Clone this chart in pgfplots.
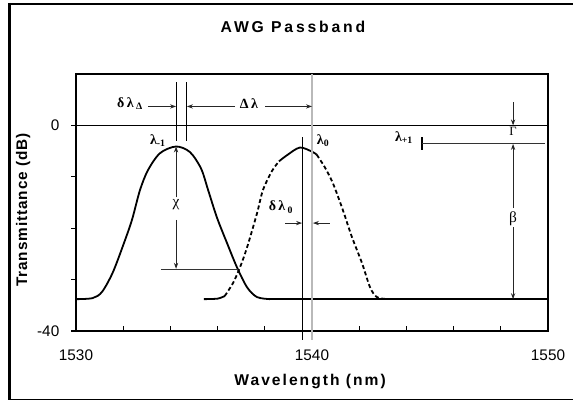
\documentclass[border=0pt]{standalone}
\usepackage{fontspec}
\setmainfont{Liberation Sans}
\newfontfamily\grk{Liberation Serif}
\newfontfamily\titlefont[LetterSpace=18]{Liberation Sans}
\newfontfamily\labfont[LetterSpace=13]{Liberation Sans}
\newfontfamily\ylabfont[LetterSpace=6]{Liberation Sans}
\usepackage{pgfplots}
\pgfplotsset{compat=1.18}
\usetikzlibrary{arrows.meta}
\tikzset{ar/.style={-{Stealth[length=4.5pt,width=3.2pt]}, line width=0.65pt, black!85}}
\begin{document}
\begin{tikzpicture}
\path[use as bounding box] (0,0) rectangle (429.75pt,-300.75pt);
\draw[line width=1.9pt] (7pt,-2.1pt) -- (7pt,-300pt);
\draw[line width=1.5pt] (6.1pt,-2.8pt) -- (430pt,-2.8pt);
\draw[line width=0.75pt] (6.1pt,-299.6pt) -- (430pt,-299.6pt);
\node[font=\titlefont\bfseries\fontsize{11.8}{13}\selectfont] at (219.75pt,-20.25pt) {AWG Passband};
\begin{axis}[
  at={(57pt,-248.25pt)}, anchor=south west,
  scale only axis, width=354pt, height=192.75pt,
  xmin=1530, xmax=1550, ymin=-40, ymax=10,
  clip=false, axis lines=box,
  axis line style={line width=1.3pt, black},
  xtick={1530,1532,...,1550}, xticklabels={1530,,,,,1540,,,,,1550},
  ytick={-40,-30,...,0}, yticklabels={-40,,,,0},
  xtick pos=bottom, ytick pos=left, tick align=inside,
  major tick length=3.75pt,
  tick style={line width=0.9pt, black},
  every major y tick/.append style={xshift=-3.75pt},
  xticklabel style={anchor=center, yshift=-18pt, font=\fontsize{11.5}{13}\selectfont},
  yticklabel style={anchor=east, xshift=-9pt, font=\fontsize{11.5}{13}\selectfont},
  xlabel={\labfont\bfseries Wavelength (nm)},
  xlabel style={at={(axis description cs:0.496,-0.198)}, anchor=center, font=\fontsize{11.7}{13}\selectfont},
  ylabel={\ylabfont\bfseries Transmittance (dB)},
  ylabel style={at={(axis description cs:-0.112,0.471)}, anchor=center, font=\fontsize{11.5}{13}\selectfont},
]
% left passband (solid)
\addplot[line width=1.35pt, smooth, tension=0.5] coordinates {
(1530,-33.8) (1530.7,-33.6) (1531.1,-32.4) (1531.55,-28.7) (1532.0,-23.3) (1532.37,-18.4)
(1532.71,-12.6) (1533.05,-8.7) (1533.56,-5.4) (1534.24,-4.1) (1534.83,-5.2) (1535.3,-8.4)
(1535.6,-12.6) (1535.97,-17.9) (1536.40,-22.9) (1536.82,-27.6) (1537.25,-31.5) (1537.67,-33.4)
(1538.22,-33.8)};
\addplot[line width=1.35pt] coordinates {(1538.22,-33.8) (1550,-33.8)};
% right passband (dashed)
\addplot[line width=1.35pt, smooth] coordinates {(1535.42,-33.8) (1536.0,-33.7) (1536.3,-33.2)};
\addplot[line width=1.35pt, smooth, dash pattern=on 3pt off 2pt] coordinates {
(1536.3,-33.2) (1536.65,-30.7) (1536.95,-27.6) (1537.25,-23.7) (1537.67,-17.1) (1537.92,-12.6)
(1538.3,-8.9) (1538.6,-7.0)};
\addplot[line width=1.35pt, smooth] coordinates {
(1538.6,-7.0) (1538.94,-5.8) (1539.49,-4.3) (1540.04,-5.2) (1540.2,-5.7)};
\addplot[line width=1.35pt, smooth, dash pattern=on 3pt off 2pt] coordinates {
(1540.2,-5.7) (1540.55,-8.2) (1540.89,-11.3) (1541.31,-16.5) (1541.69,-21.7) (1542.12,-26.8)
(1542.46,-31.5) (1542.75,-33.4) (1543.2,-33.8)};
\addplot[line width=1.8pt] coordinates {(1543.2,-33.8) (1548.5,-33.8)};
% plot frame
\draw[line width=1.4pt, black] (1530,10) -- (1550,10) -- (1550,-40);
% reference lines
\draw[line width=1.3pt] (1530,0) -- (1550,0);
\draw[gray!55, line width=1.1pt] (1540,10) -- (1540,-41.7);
\draw[line width=0.8pt] (1539.58,-2.33) -- (1539.58,-41.7);
\draw[line width=0.8pt] (1534.24,8.35) -- (1534.24,-3.1);
\draw[line width=0.8pt] (1534.70,8.35) -- (1534.70,-3.1);
% labels
\node[font=\grk\bfseries\fontsize{10.5}{12}\selectfont] at (1532.29,4.27) {δ\,λ\,\textsubscript{Δ}};
\node[font=\grk\bfseries\fontsize{10.5}{12}\selectfont] at (1537.33,4.27) {Δ\,λ};
\node[font=\grk\bfseries\fontsize{10.5}{12}\selectfont] at (1533.47,-2.9) {λ\textsubscript{-1}};
\node[font=\grk\bfseries\fontsize{10.5}{12}\selectfont] at (1540.47,-2.9) {λ\textsubscript{0}};
\node[font=\grk\bfseries\fontsize{10.5}{12}\selectfont] at (1543.9,-2.4) {λ\textsubscript{+1}};
\node[font=\grk\bfseries\fontsize{10.5}{12}\selectfont] at (1538.69,-15.9) {δ\,λ\,\textsubscript{0}};
\node[font=\grk\fontsize{11.5}{13}\selectfont] at (1534.24,-15.5) {χ};
\node[font=\grk\fontsize{11.5}{13}\selectfont] at (1548.52,-18.06) {β};
\node[font=\grk\fontsize{9.5}{11}\selectfont] at (1548.52,-1.17) {Γ};
% arrows
\draw[ar] (1533.05,3.69) -- (1534.24,3.69);
\draw[ar] (1536.74,3.69) -- (1534.70,3.69);
\draw[ar] (1538.01,3.69) -- (1540,3.69);
\draw[ar] (1548.52,4.47) -- (1548.52,0);
\draw[ar] (1548.52,-16.1) -- (1548.52,-3.6);
\draw[ar] (1548.52,-19.8) -- (1548.52,-33.8);
\draw[ar] (1534.24,-14.0) -- (1534.24,-4.1);
\draw[ar] (1534.24,-18.4) -- (1534.24,-27.9);
\draw[black!80, line width=0.8pt] (1533.6,-28) -- (1536.86,-28);
\draw[ar] (1538.86,-19.0) -- (1539.58,-19.0);
\draw[ar] (1540.76,-19.0) -- (1540.04,-19.0);
\draw[line width=0.8pt] (1544.66,-2.33) -- (1544.66,-4.85);
\draw[black!80, line width=0.8pt] (1544.66,-3.5) -- (1549.87,-3.5);
\end{axis}
\end{tikzpicture}
\end{document}
